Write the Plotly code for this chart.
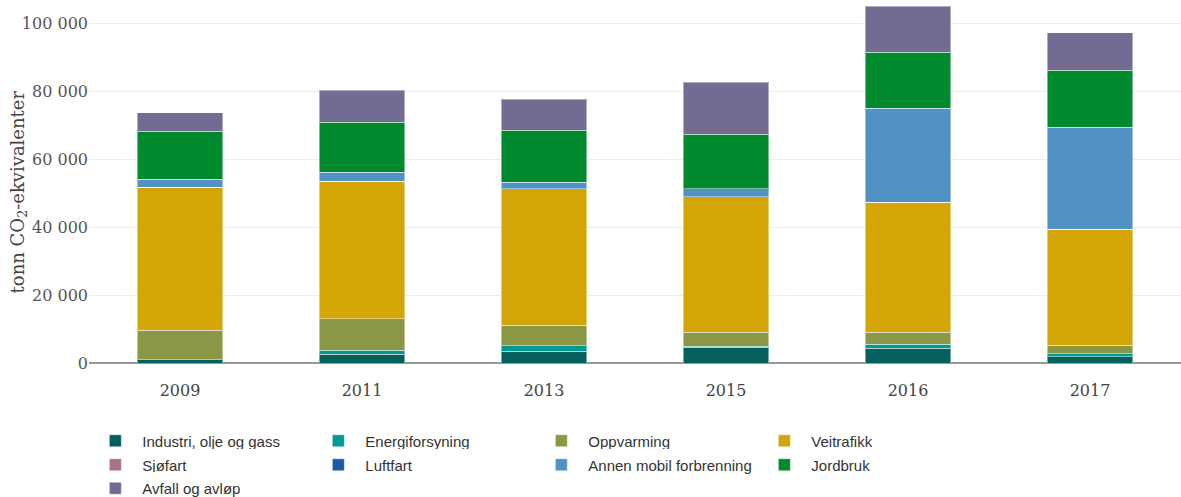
import plotly.graph_objects as go

years = ["2009", "2011", "2013", "2015", "2016", "2017"]

industri = [900, 2600, 3500, 4700, 4400, 1800]
energi = [100, 1100, 1600, 300, 1200, 1000]
oppvarming = [8700, 9300, 6100, 4100, 3500, 2500]
veitrafikk = [42100, 40600, 40200, 39900, 38300, 34100]
sjofart = [0, 0, 0, 0, 0, 0]
luftfart = [0, 0, 0, 0, 0, 0]
annen_mobil = [2300, 2700, 1900, 2400, 27700, 30100]
jordbruk = [14200, 14700, 15300, 16000, 16500, 16800]
avfall = [5400, 9400, 9200, 15300, 13600, 11000]

series = [
    ("Industri, olje og gass", industri, "#04605b"),
    ("Energiforsyning", energi, "#009a92"),
    ("Oppvarming", oppvarming, "#8b9745"),
    ("Veitrafikk", veitrafikk, "#d4a506"),
    ("Sjøfart", sjofart, "#a97181"),
    ("Luftfart", luftfart, "#1a5ca4"),
    ("Annen mobil forbrenning", annen_mobil, "#5192c4"),
    ("Jordbruk", jordbruk, "#00892d"),
    ("Avfall og avløp", avfall, "#746b93"),
]

legend_ids = ["legend", "legend2", "legend3"]

fig = go.Figure()
for i, (name, vals, col) in enumerate(series):
    fig.add_trace(go.Bar(
        x=years, y=vals, name=name,
        legend=legend_ids[i // 4],
        marker=dict(color=col, line=dict(color="rgba(255,255,255,0.45)", width=1)),
    ))

H = 497
row_tops = [424.5, 448.5, 472]
legend_common = dict(
    orientation="h",
    xref="container", yref="container",
    x=0.0748, xanchor="left", yanchor="top",
    itemwidth=44,
    entrywidth=164, entrywidthmode="pixels",
    font=dict(family="Liberation Sans, Arial, sans-serif", size=15, color="#333"),
    traceorder="normal",
)

fig.update_layout(
    barmode="stack",
    bargap=0.53,
    width=1181, height=H,
    margin=dict(l=89, r=0, t=0, b=134, autoexpand=False),
    paper_bgcolor="white", plot_bgcolor="white",
    separators=", ",
    font=dict(family="Liberation Sans, Arial, sans-serif", color="#333"),
    xaxis=dict(
        type="category",
        tickfont=dict(family="DejaVu Serif, serif", size=16, color="#444"),
        showgrid=False, showline=False, ticks="",
        ticklabelstandoff=16,
        automargin=False,
    ),
    yaxis=dict(
        range=[0, 107000],
        tickmode="linear", tick0=0, dtick=20000,
        tickformat=",d",
        tickfont=dict(family="DejaVu Serif, serif", size=16, color="#555"),
        gridcolor="#ececec", gridwidth=1,
        zeroline=True, zerolinecolor="#999", zerolinewidth=1.5,
        automargin=False,
    ),
    annotations=[dict(
        text="tonn CO<sub>2</sub>-ekvivalenter",
        xref="paper", yref="paper",
        x=-70 / 1092, y=0.47, xanchor="center", yanchor="middle",
        textangle=-90, showarrow=False,
        font=dict(family="DejaVu Serif, serif", size=18, color="#444"),
    )],
    legend=dict(legend_common, y=1 - row_tops[0] / H),
    legend2=dict(legend_common, y=1 - row_tops[1] / H),
    legend3=dict(legend_common, y=1 - row_tops[2] / H),
)

fig.write_html("out.html", config={"displayModeBar": False},
               post_script="document.body.style.margin='0';")
